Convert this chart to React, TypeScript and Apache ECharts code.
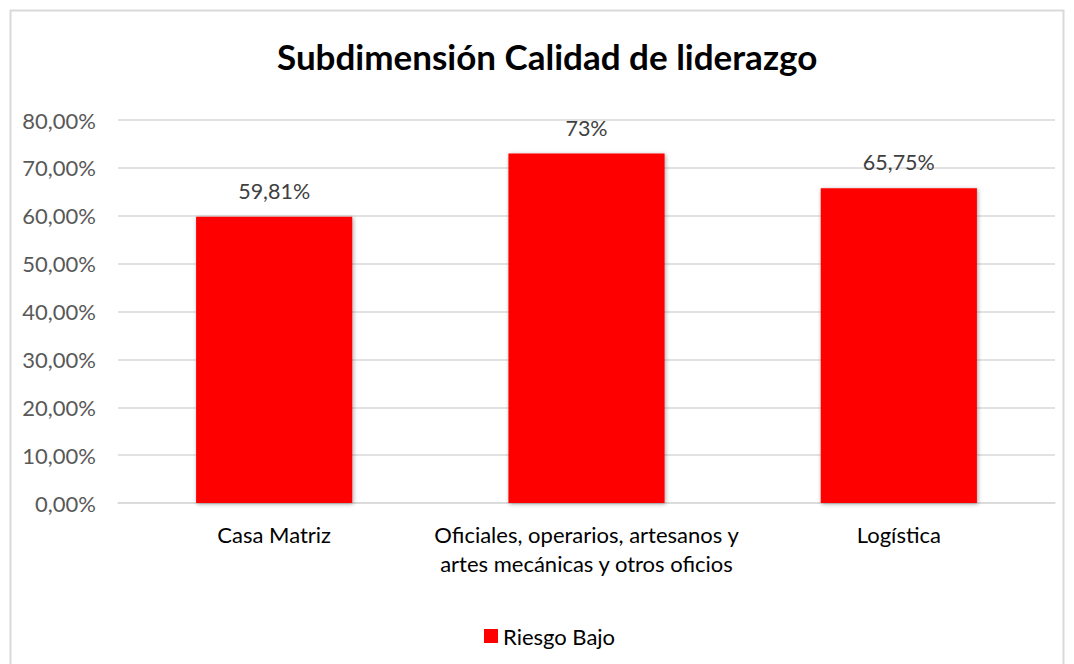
import React, { useEffect, useRef } from "react";
import * as echarts from "echarts";

const categories = [
  "Casa Matriz",
  "Oficiales, operarios, artesanos y\nartes mecánicas y otros oficios",
  "Logística",
];
const values = [59.81, 73, 65.75];
const valueLabels = ["59,81%", "73%", "65,75%"];
const seriesName = "Riesgo Bajo";
const titleText = "Subdimensión Calidad de liderazgo";

const FONT = "Lato, 'Open Sans', sans-serif";

export default function App() {
  const ref = useRef<HTMLDivElement>(null);
  useEffect(() => {
    if (!ref.current) return;
    const chart = echarts.init(ref.current, undefined, { renderer: "svg" });
    chart.setOption({
      animation: false,
      backgroundColor: "#ffffff",
      title: {
        text: titleText,
        left: 272,
        top: 33,
        textStyle: { fontFamily: FONT, fontSize: 35, fontWeight: "bold", color: "#000" },
      },
      graphic: [
        {
          type: "rect",
          shape: { x: 10.5, y: 10.5, width: 1053, height: 700 },
          style: { fill: "none", stroke: "#d9d9d9", lineWidth: 2 },
          silent: true,
        },
      ],
      legend: {
        bottom: 12,
        left: 479,
        data: [seriesName],
        icon: "rect",
        itemWidth: 14,
        itemHeight: 14,
        itemGap: 5,
        textStyle: { fontFamily: FONT, fontSize: 22, color: "#000" },
      },
      grid: { left: 118, right: 19, top: 120, bottom: 161 },
      xAxis: {
        type: "category",
        data: categories,
        axisLine: { lineStyle: { color: "#d9d9d9", width: 1.5 } },
        axisTick: { show: false },
        axisLabel: {
          fontFamily: FONT,
          fontSize: 22,
          color: "#000",
          lineHeight: 29,
          margin: 17,
          interval: 0,
        },
      },
      yAxis: {
        type: "value",
        min: 0,
        max: 80,
        interval: 10,
        axisLine: { show: false },
        axisTick: { show: false },
        splitLine: { lineStyle: { color: "#d9d9d9", width: 1.5 } },
        axisLabel: {
          fontFamily: FONT,
          fontSize: 22,
          color: "#595959",
          margin: 22,
          formatter: (v: number) => v.toFixed(2).replace(".", ",") + "%",
        },
      },
      series: [
        {
          name: seriesName,
          type: "bar",
          data: values,
          barWidth: "50%",
          itemStyle: {
            color: "#ff0000",
            shadowBlur: 4,
            shadowColor: "rgba(0,0,0,0.35)",
            shadowOffsetX: 1,
            shadowOffsetY: 1,
          },
          label: {
            show: true,
            position: "top",
            distance: 15,
            fontFamily: FONT,
            fontSize: 21.5,
            color: "#404040",
            formatter: (p: any) => valueLabels[p.dataIndex],
          },
        },
      ],
    });
    return () => chart.dispose();
  }, []);
  return (
    <div
      ref={ref}
      style={{ position: "fixed", left: 0, top: 0, width: 1074, height: 664 }}
    />
  );
}
